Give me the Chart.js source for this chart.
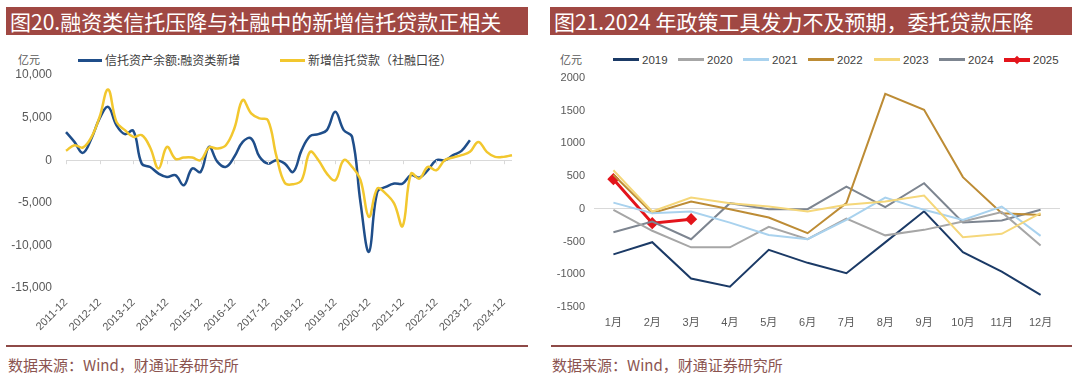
<!DOCTYPE html>
<html><head><meta charset="utf-8">
<script src="https://cdn.jsdelivr.net/npm/chart.js@4/dist/chart.umd.min.js"></script>
<style>
html,body{margin:0;padding:0;background:#fff;width:1080px;height:379px;overflow:hidden;position:relative;font-family:"Noto Sans CJK SC","Liberation Sans",sans-serif;}
.bar{position:absolute;top:7px;height:28px;background:#a04843;color:#fff;font-size:21px;line-height:28px;white-space:nowrap;padding-left:4px;box-sizing:border-box;}
.rule{position:absolute;top:345px;height:2px;background:#8e4a47;}
.src{position:absolute;top:355px;font-size:15px;line-height:20px;color:#8b5450;white-space:nowrap;}
.unit{position:absolute;font-size:11px;color:#595959;}
.lg{position:absolute;top:52px;height:16px;font-size:12px;line-height:16px;color:#404040;white-space:nowrap;}
.lg i{display:inline-block;vertical-align:middle;height:3px;margin-right:3px;position:relative;top:-1px;}
.lgr{font-family:"Liberation Sans",Arial,sans-serif;font-size:11.5px;color:#404040;}
canvas{position:absolute;}
</style></head>
<body>
<div class="bar" style="left:6px;width:522px;">图20.融资类信托压降与社融中的新增信托贷款正相关</div>
<div class="bar" style="left:550px;width:522px;">图21.2024 年政策工具发力不及预期，委托贷款压降</div>

<div class="unit" style="left:18px;top:51px;">亿元</div>
<div class="lg" style="left:78px;"><i style="width:24px;background:#1f4e8a"></i>信托资产余额:融资类新增</div>
<div class="lg" style="left:280px;"><i style="width:25px;background:#f2c72e"></i>新增信托贷款（社融口径）</div>

<div class="unit" style="left:560px;top:51px;">亿元</div>
<div id="lgR"></div>

<canvas id="c1" width="530" height="300" style="left:0;top:40px;"></canvas>
<canvas id="c2" width="540" height="300" style="left:540px;top:40px;"></canvas>

<div class="rule" style="left:6px;width:522px;"></div>
<div class="rule" style="left:551px;width:521px;"></div>
<div class="src" style="left:8px;">数据来源：Wind，财通证券研究所</div>
<div class="src" style="left:552px;">数据来源：Wind，财通证券研究所</div>

<script>
// ---------- Left chart data (quarterly) ----------
const quarters = ['2011-12','2012-03','2012-06','2012-09','2012-12','2013-03','2013-06','2013-09','2013-12','2014-03','2014-06','2014-09','2014-12','2015-03','2015-06','2015-09','2015-12','2016-03','2016-06','2016-09','2016-12','2017-03','2017-06','2017-09','2017-12','2018-03','2018-06','2018-09','2018-12','2019-03','2019-06','2019-09','2019-12','2020-03','2020-06','2020-09','2020-12','2021-03','2021-06','2021-09','2021-12','2022-03','2022-06','2022-09','2022-12','2023-03','2023-06','2023-09','2023-12','2024-03','2024-06','2024-09','2024-12','2025-03'];
const yearTicks = ['2011-12','2012-12','2013-12','2014-12','2015-12','2016-12','2017-12','2018-12','2019-12','2020-12','2021-12','2022-12','2023-12','2024-12'];
const trustFinancing = [3300,2150,860,2500,4900,6250,4100,3060,3450,-400,-800,-1570,-1960,-1760,-2940,-980,-1370,1570,-200,-780,400,2150,2550,400,-400,0,-400,-1370,1180,2820,3060,3530,5680,3530,2740,-5000,-10750,-3700,-3140,-2740,-2740,-1760,-2040,-1180,0,0,590,1100,2350];
const newTrustLoans = [1100,1760,1490,2670,5100,8300,4500,3530,2740,2940,1490,-980,1570,160,310,310,0,1490,1370,1760,3720,7060,5490,4900,4700,500,-2670,-2820,-2350,980,0,-1570,-2350,0,-780,-2350,-6650,-3330,-3920,-5100,-7730,-1570,-2160,-780,-1180,0,310,590,980,2150,980,390,390,590];
const leftYTicks = [10000,5000,0,-5000,-10000,-15000];

// ---------- Right chart data (monthly) ----------
const months = ['1月','2月','3月','4月','5月','6月','7月','8月','9月','10月','11月','12月'];
const y2019 = [-695,-510,-1065,-1190,-627,-825,-984,-512,-38,-662,-958,-1315];
const y2020 = [-15,-335,-588,-588,-275,-462,-150,-405,-321,-194,-50,-561];
const y2021 = [95,-66,-40,-210,-398,-464,-168,173,-15,-168,36,-413];
const y2022 = [520,-66,112,-5,-133,-372,87,1758,1514,485,-66,-92];
const y2023 = [590,-40,173,87,36,-40,61,112,204,-433,-382,-66];
const y2024 = [-357,-194,-464,87,-5,-5,341,25,392,-209,-178,-15];
const y2025 = [454,-219,-158];
const rightYTicks = [2000,1500,1000,500,0,-500,-1000,-1500];

Chart.defaults.font.family = "'Liberation Sans', Arial, 'Noto Sans CJK SC', sans-serif";
Chart.defaults.color = '#595959';
Chart.defaults.animation = false;

const zeroTicks = {
  id:'zeroTicks',
  afterDatasetsDraw(chart){
    const xs = chart.scales.x, ys = chart.scales.y, ctx = chart.ctx;
    const y0 = ys.getPixelForValue(0);
    ctx.save(); ctx.strokeStyle = '#d9d9d9'; ctx.lineWidth = 1;
    yearTicks.forEach(t => {
      const idx = quarters.indexOf(t);
      const x = Math.round(xs.getPixelForValue(idx)) + 0.5;
      ctx.beginPath(); ctx.moveTo(x, y0); ctx.lineTo(x, y0 + 4); ctx.stroke();
    });
    ctx.restore();
  }
};

new Chart(document.getElementById('c1'), {
  type:'line',
  data:{ labels: quarters, datasets:[
    {label:'新增信托贷款（社融口径）', data:newTrustLoans, borderColor:'#f2c72e', borderWidth:2.5, pointRadius:0, tension:0.4, fill:false},
    {label:'信托资产余额:融资类新增', data:trustFinancing, borderColor:'#1f4e8a', borderWidth:2.5, pointRadius:0, tension:0.4, fill:false}
  ]},
  options:{
    responsive:false,
    layout:{padding:{top:35,left:0,right:18,bottom:0}},
    plugins:{legend:{display:false}, tooltip:{enabled:false}},
    scales:{
      x:{ type:'category', offset:false,
        grid:{display:false, drawTicks:false}, border:{display:false},
        ticks:{autoSkip:false, minRotation:45, maxRotation:45, padding:8, font:{size:11}, color:'#595959',
          callback:(v,i)=> yearTicks.includes(quarters[i]) ? quarters[i] : ''},
        afterFit:(s)=>{ s.height = 52; }
      },
      y:{ min:-15000, max:10000,
        afterBuildTicks:(s)=>{ s.ticks = leftYTicks.map(v=>({value:v})); },
        grid:{drawTicks:false, color:(c)=> c.tick && c.tick.value===0 ? '#d9d9d9' : 'rgba(0,0,0,0)'},
        border:{display:false},
        ticks:{padding:14, font:{size:12}, color:'#595959',
          callback:(v)=> v.toLocaleString('en-US')},
        afterFit:(s)=>{ s.width = 66; }
      }
    }
  },
  plugins:[zeroTicks]
});

const series = [
  {label:'2019', data:y2019, color:'#1b3a66'},
  {label:'2020', data:y2020, color:'#a6a6a6'},
  {label:'2021', data:y2021, color:'#a9d2ee'},
  {label:'2022', data:y2022, color:'#bd8c35'},
  {label:'2023', data:y2023, color:'#f5d77a'},
  {label:'2024', data:y2024, color:'#7d8590'},
  {label:'2025', data:y2025, color:'#e3141b'}
];
const legendX = [613,678,743,808,874,939,1004];
const lg = document.getElementById('lgR');
series.forEach((s,i)=>{
  const d = document.createElement('div');
  d.className = 'lg lgr';
  d.style.left = legendX[i]+'px';
  const marker = s.label==='2025' ? '<span style="position:absolute;left:10px;top:5px;width:6px;height:6px;background:'+s.color+';transform:rotate(45deg)"></span>' : '';
  d.innerHTML = '<i style="width:26px;height:'+(s.label==='2025'?4:3)+'px;background:'+s.color+'"></i>'+marker+s.label;
  lg.appendChild(d);
});

const order = ['2023','2021','2020','2022','2024','2019','2025'];
new Chart(document.getElementById('c2'), {
  type:'line',
  data:{ labels: months, datasets: order.map(l=>{
    const s = series.find(x=>x.label===l);
    const is25 = l==='2025';
    return {label:s.label, data:s.data, borderColor:s.color, backgroundColor:s.color,
      borderWidth: is25 ? 3 : 2, tension:0,
      pointRadius: is25 ? 4 : 0, pointStyle:'rectRot', fill:false};
  })},
  options:{
    responsive:false,
    layout:{padding:{top:38,left:0,right:20,bottom:0}},
    plugins:{legend:{display:false}, tooltip:{enabled:false}},
    scales:{
      x:{ type:'category', offset:true,
        grid:{display:false, drawTicks:false}, border:{display:false},
        ticks:{padding:9, font:{size:11}, color:'#595959', maxRotation:0},
        afterFit:(s)=>{ s.height = 33; }
      },
      y:{ min:-1500, max:2000,
        afterBuildTicks:(s)=>{ s.ticks = rightYTicks.map(v=>({value:v})); },
        grid:{drawTicks:false, color:(c)=> c.tick && c.tick.value===0 ? '#d9d9d9' : 'rgba(0,0,0,0)'},
        border:{display:false},
        ticks:{padding:9, font:{size:11}, color:'#595959', callback:(v)=> String(v)},
        afterFit:(s)=>{ s.width = 54; }
      }
    }
  }
});
</script>
</body></html>
